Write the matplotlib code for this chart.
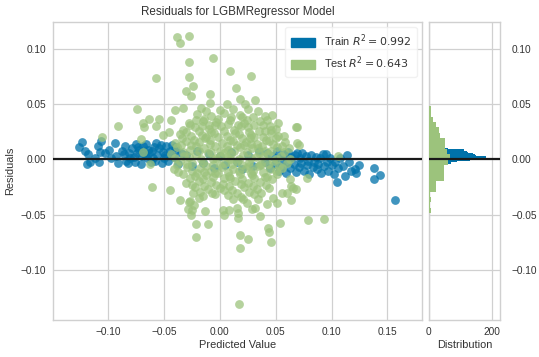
import numpy as np
import matplotlib
matplotlib.use("Agg")
import matplotlib.pyplot as plt
from matplotlib.patches import Patch

# === Data ===
# (predicted value, residual)
train_points = [
    (-0.126, 0.011), (-0.123, 0.016), (-0.121, 0.008), (-0.118, 0.005), (-0.119, -0.004),
    (-0.116, -0.002), (-0.112, 0.001), (-0.109, 0.012), (-0.106, 0.017), (-0.107, 0.007),
    (-0.108, -0.002), (-0.103, 0.006), (-0.099, 0.009), (-0.097, 0.001), (-0.094, 0.015),
    (-0.093, 0.003), (-0.091, -0.003), (-0.088, 0.008), (-0.085, 0.012), (-0.084, -0.001),
    (-0.082, -0.003), (-0.081, 0.006), (-0.079, 0.010), (-0.077, 0.002), (-0.076, -0.002),
    (-0.075, 0.014), (-0.074, 0.006), (-0.072, 0.009), (-0.071, -0.004), (-0.070, 0.003),
    (-0.069, 0.012), (-0.068, 0.007), (-0.066, 0.014), (-0.065, 0.001), (-0.064, 0.009),
    (-0.063, 0.006), (-0.062, -0.002), (-0.060, 0.001), (-0.059, 0.011), (-0.057, 0.015),
    (-0.056, 0.004), (-0.054, 0.010), (-0.052, -0.003), (-0.051, 0.007), (-0.049, 0.004),
    (-0.048, 0.012), (-0.046, -0.001), (-0.045, 0.008), (-0.043, 0.013), (-0.041, 0.002),
    (-0.039, 0.009), (-0.037, -0.004), (-0.035, 0.006), (-0.030, 0.004), (-0.025, -0.006),
    (-0.080, 0.001), (-0.073, 0.011), (-0.067, 0.004), (-0.061, 0.008), (-0.058, -0.001),
    (-0.053, 0.013), (-0.050, 0.001), (-0.044, 0.005), (-0.040, 0.011), (-0.086, 0.005),
    (-0.020, 0.008), (-0.015, -0.003), (-0.010, 0.005), (-0.005, -0.008), (0.000, 0.003),
    (0.005, -0.005), (0.010, 0.007), (0.015, -0.002), (0.020, -0.009), (0.025, 0.004),
    (0.030, -0.006), (0.035, 0.008), (0.040, -0.002), (0.042, 0.006), (0.045, -0.008),
    (0.047, 0.003), (0.049, -0.004), (0.051, 0.008), (0.053, -0.010), (0.054, 0.001),
    (0.056, -0.006), (0.057, 0.005), (0.059, -0.012), (0.060, -0.002), (0.061, 0.007),
    (0.063, -0.008), (0.064, 0.002), (0.066, -0.004), (0.067, 0.004), (0.068, -0.011),
    (0.069, 0.006), (0.071, -0.007), (0.072, 0.001), (0.073, -0.003), (0.074, 0.006),
    (0.075, -0.010), (0.077, 0.003), (0.078, -0.005), (0.079, -0.001), (0.080, -0.013),
    (0.082, 0.004), (0.083, -0.007), (0.084, -0.002), (0.086, 0.002), (0.087, -0.009),
    (0.088, -0.004), (0.090, 0.001), (0.091, -0.012), (0.092, 0.005), (0.093, -0.006),
    (0.095, 0.005), (0.096, -0.002), (0.097, -0.010), (0.099, 0.001), (0.100, -0.005),
    (0.102, -0.013), (0.103, -0.002), (0.105, -0.020), (0.106, -0.008), (0.108, 0.001),
    (0.110, -0.006), (0.112, -0.015), (0.114, 0.004), (0.116, -0.002), (0.117, -0.010),
    (0.121, -0.009), (0.122, -0.012), (0.125, -0.005), (0.138, -0.008), (0.138, -0.018),
    (0.143, -0.014), (0.157, -0.037),
]

test_points = [
    # upper outliers
    (-0.038, 0.111), (-0.028, 0.112), (-0.036, 0.105), (-0.006, 0.092), (-0.0275, 0.088),
    (-0.057, 0.074), (-0.0275, 0.0745), (0.009, 0.080), (0.028, 0.0755), (-0.024, 0.0665),
    (0.0143, 0.065), (-0.0305, 0.062), (-0.009, 0.059), (-0.0257, 0.0575), (-0.074, 0.0455),
    (0.0317, 0.0537), (0.018, 0.0545), (0.0227, 0.0506), (-0.009, 0.051), (0.0066, 0.050),
    (-0.040, 0.0447), (-0.033, 0.0468), (-0.017, 0.0468), (0.0466, 0.0405), (0.034, 0.0438),
    (0.025, 0.046), (-0.0633, 0.0366), (-0.054, 0.0366), (-0.0687, 0.0333), (-0.0436, 0.0357),
    (-0.0567, 0.0306), (0.068, 0.0297), (0.0388, 0.0312), (-0.1055, 0.020), (-0.091, 0.0303),
    (-0.068, 0.029), (-0.0705, 0.0186), (-0.051, 0.0225), (-0.0457, 0.0246), (-0.0687, 0.007),
    (-0.0627, -0.0045), (-0.012, 0.044), (0.000, 0.045), (0.012, 0.046), (0.020, 0.038),
    (-0.021, 0.036), (0.042, 0.036), (0.052, 0.033), (0.0687, 0.015), (0.071, 0.013),
    (0.057, 0.021), (0.1055, 0.0036), (0.063, 0.0006), (0.0687, 0.029),
    # lower outliers
    (-0.0607, -0.0246), (-0.0445, -0.0276), (-0.0356, -0.0366), (-0.0275, -0.0384),
    (-0.024, -0.030), (-0.0185, -0.0345), (-0.023, -0.0408), (-0.025, -0.046), (-0.026, -0.050),
    (-0.0137, -0.0465), (-0.021, -0.058), (-0.0105, -0.058), (-0.021, -0.0705), (0.0024, -0.0456),
    (0.0078, -0.0456), (0.004, -0.050), (0.0155, -0.0443), (0.0164, -0.048), (0.018, -0.0684),
    (0.0185, -0.080), (0.0254, -0.072), (0.0173, -0.1307), (0.012, -0.0353), (0.024, -0.039),
    (0.0284, -0.045), (0.0314, -0.0435), (0.036, -0.0515), (0.043, -0.0615), (0.044, -0.0654),
    (0.0457, -0.075), (0.0538, -0.0575), (0.079, -0.0543), (0.0935, -0.0534), (0.064, -0.037),
    (0.0558, -0.030), (0.068, -0.027), (0.0636, -0.024), (0.0478, -0.0345), (0.078, -0.0165),
    (0.0164, -0.0533), (0.0343, -0.036), (0.042, -0.040), (0.051, -0.039), (0.060, -0.030),
    (0.0657, -0.0255), (0.063, -0.018), (0.021, -0.036), (-0.027, -0.0375), (-0.0285, -0.045),
    # dense core
    (-0.020, 0.041), (-0.008, 0.039), (0.004, 0.042), (0.018, 0.040), (0.030, 0.038),
    (-0.028, 0.033), (-0.015, 0.035), (-0.003, 0.034), (0.009, 0.036), (0.022, 0.033), (0.036, 0.035),
    (-0.033, 0.027), (-0.022, 0.029), (-0.010, 0.028), (0.001, 0.030), (0.013, 0.027),
    (0.025, 0.029), (0.040, 0.026), (0.050, 0.028),
    (-0.036, 0.023), (-0.026, 0.021), (-0.016, 0.022), (-0.005, 0.024), (0.006, 0.021),
    (0.017, 0.023), (0.028, 0.022), (0.039, 0.020), (0.052, 0.021),
    (-0.040, 0.015), (-0.030, 0.017), (-0.019, 0.016), (-0.009, 0.018), (0.002, 0.015),
    (0.012, 0.017), (0.023, 0.016), (0.033, 0.014), (0.044, 0.017), (0.058, 0.016),
    (-0.038, 0.011), (-0.027, 0.009), (-0.014, 0.010), (-0.004, 0.012), (0.007, 0.009),
    (0.018, 0.011), (0.029, 0.010), (0.040, 0.008), (0.051, 0.011), (0.062, 0.010),
    (-0.044, 0.005), (-0.032, 0.003), (-0.021, 0.004), (-0.011, 0.006), (0.000, 0.003),
    (0.010, 0.005), (0.021, 0.004), (0.032, 0.002), (0.043, 0.005), (0.055, 0.003),
    (-0.036, -0.001), (-0.025, -0.003), (-0.015, -0.002), (-0.006, 0.000), (0.005, -0.003),
    (0.015, -0.001), (0.026, -0.002), (0.037, -0.004), (0.048, -0.001), (0.060, -0.003),
    (-0.041, -0.009), (-0.029, -0.007), (-0.018, -0.008), (-0.008, -0.010), (0.002, -0.007),
    (0.012, -0.009), (0.023, -0.008), (0.034, -0.006), (0.045, -0.009), (0.056, -0.008),
    (-0.033, -0.013), (-0.022, -0.015), (-0.012, -0.014), (-0.002, -0.012), (0.008, -0.015),
    (0.018, -0.013), (0.029, -0.014), (0.040, -0.016), (0.051, -0.013),
    (-0.030, -0.021), (-0.019, -0.019), (-0.008, -0.020), (0.003, -0.022), (0.014, -0.019),
    (0.025, -0.021), (0.036, -0.020), (0.047, -0.018),
    (-0.022, -0.025), (-0.011, -0.027), (0.000, -0.026), (0.011, -0.028), (0.022, -0.025),
    (0.033, -0.027), (0.044, -0.026),
    (-0.015, -0.033), (-0.004, -0.031), (0.007, -0.032), (0.019, -0.034), (0.031, -0.031),
    (-0.026, 0.013), (-0.012, 0.020), (0.000, 0.008), (0.015, 0.013), (0.027, 0.019),
    (-0.006, -0.005), (0.009, 0.000), (0.020, -0.005), (0.034, 0.010), (-0.020, -0.012),
    (0.004, -0.017), (0.030, -0.010), (-0.010, 0.031), (0.016, 0.031), (0.046, 0.024),
    # core, in-between rows
    (-0.014, 0.037), (-0.002, 0.037), (0.010, 0.038), (0.024, 0.036), (0.040, 0.039),
    (-0.027, 0.031), (-0.016, 0.030), (-0.004, 0.031), (0.007, 0.032), (0.019, 0.030),
    (0.031, 0.031), (0.045, 0.030),
    (-0.030, 0.025), (-0.019, 0.026), (-0.008, 0.025), (0.004, 0.026), (0.014, 0.024),
    (0.026, 0.025), (0.035, 0.026), (0.046, 0.027),
    (-0.034, 0.019), (-0.023, 0.018), (-0.013, 0.019), (-0.002, 0.020), (0.009, 0.018),
    (0.020, 0.019), (0.031, 0.020), (0.041, 0.018), (0.050, 0.019),
    (-0.035, 0.013), (-0.021, 0.012), (-0.009, 0.014), (0.006, 0.012), (0.022, 0.013),
    (0.028, 0.014), (0.038, 0.012), (0.048, 0.014), (0.056, 0.012),
    (-0.033, 0.007), (-0.019, 0.008), (-0.008, 0.007), (0.004, 0.006), (0.013, 0.008),
    (0.024, 0.007), (0.035, 0.006), (0.046, 0.008), (0.057, 0.007),
    (-0.040, 0.001), (-0.028, 0.002), (-0.017, 0.000), (-0.003, 0.001), (0.006, 0.002),
    (0.017, 0.000), (0.028, 0.001), (0.039, 0.002), (0.050, 0.000),
    (-0.038, -0.005), (-0.029, -0.004), (-0.012, -0.006), (0.000, -0.005), (0.011, -0.004),
    (0.026, -0.006), (0.036, -0.005), (0.043, -0.004), (0.053, -0.006),
    (-0.037, -0.011), (-0.025, -0.010), (-0.014, -0.011), (-0.004, -0.012), (0.007, -0.011),
    (0.017, -0.010), (0.028, -0.012), (0.039, -0.011), (0.050, -0.010),
    (-0.027, -0.017), (-0.015, -0.018), (-0.006, -0.016), (0.009, -0.017), (0.020, -0.018),
    (0.031, -0.017), (0.042, -0.016),
    (-0.025, -0.023), (-0.014, -0.024), (-0.003, -0.023), (0.008, -0.024), (0.019, -0.022),
    (0.030, -0.024), (0.041, -0.023),
    (-0.018, -0.029), (-0.007, -0.030), (0.004, -0.028), (0.015, -0.030), (0.026, -0.029),
    (0.037, -0.030),
]

# histogram bins (residual bin centre, count)
train_hist_y = [0.0118, 0.0107, 0.0096, 0.0086, 0.0075, 0.0064, 0.0054, 0.0043, 0.0032,
                0.0022, 0.0011, 0.0000, -0.0011, -0.0021, -0.0032, -0.0043, -0.0054, -0.0064]
train_hist_n = [3, 8, 60, 110, 120, 125, 140, 145, 150, 180, 188, 165, 130, 90, 70, 40, 20, 10]
train_bin_w = 0.00107

test_hist_y = [0.0460, 0.0412, 0.0363, 0.0315, 0.0266, 0.0218, 0.0169, 0.0121, 0.0072,
               0.0024, -0.0025, -0.0073, -0.0122, -0.0170, -0.0219, -0.0267, -0.0316,
               -0.0364, -0.0413, -0.0461]
test_hist_n = [8, 9, 13, 22, 32, 37, 51, 52, 57, 67, 60, 50, 49, 50, 25, 22, 4, 9, 6, 9]
test_bin_w = 0.00485

train_r2 = 0.992
test_r2 = 0.643

train_color = "#0072aa"
test_color = "#9cc37c"
grid_color = "#d0d0d0"
text_color = "#333333"

plt.rcParams["font.family"] = ["Liberation Sans", "DejaVu Sans"]

fig = plt.figure(figsize=(5.39, 3.57), dpi=100)
ax = fig.add_axes([0.099, 0.104, 0.684, 0.835])
hax = fig.add_axes([0.795, 0.104, 0.133, 0.835], sharey=ax)

tr = np.array(train_points)
te = np.array(test_points)

ax.scatter(tr[:, 0], tr[:, 1], s=40, color=train_color, alpha=0.75, linewidths=0,
           label=f"Train $R^2 = {train_r2:0.3f}$", zorder=2)
ax.scatter(te[:, 0], te[:, 1], s=40, color=test_color, alpha=0.75, linewidths=0,
           label=f"Test $R^2 = {test_r2:0.3f}$", zorder=3)
ax.axhline(0, color="#1a1a1a", lw=1.6, zorder=4)

hax.barh(train_hist_y, train_hist_n, height=train_bin_w, color=train_color, zorder=2)
hax.barh(test_hist_y, test_hist_n, height=test_bin_w, color=test_color, zorder=3)
hax.axhline(0, color="#1a1a1a", lw=1.6, zorder=4)

ax.set_xlim(-0.149, 0.181)
ax.set_ylim(-0.145, 0.1245)
ax.set_xticks([-0.10, -0.05, 0.00, 0.05, 0.10, 0.15])
ax.set_yticks([-0.10, -0.05, 0.00, 0.05, 0.10])
hax.set_xlim(0, 225)
hax.set_xticks([0, 200])

for a in (ax, hax):
    a.set_facecolor("white")
    a.grid(True, color=grid_color, lw=0.9, zorder=0)
    a.set_axisbelow(True)
    for sp in a.spines.values():
        sp.set_color(grid_color)
        sp.set_linewidth(1.0)
    a.tick_params(length=0, labelsize=7.3, colors=text_color, pad=5)

hax.yaxis.tick_right()
hax.tick_params(axis="y", labelleft=False, labelright=True, pad=8)

ax.set_title("Residuals for LGBMRegressor Model", fontsize=8.4, color=text_color, pad=5)
ax.set_xlabel("Predicted Value", fontsize=7.9, color=text_color, labelpad=2)
ax.set_ylabel("Residuals", fontsize=7.9, color=text_color, labelpad=4)
hax.set_xlabel("Distribution", fontsize=7.9, color=text_color, labelpad=2)

handles = [Patch(color=train_color), Patch(color=test_color)]
labels = [f"Train $R^2 = {train_r2:0.3f}$", f"Test $R^2 = {test_r2:0.3f}$"]
leg = ax.legend(handles, labels, loc="upper right", fontsize=7.9, frameon=True,
                framealpha=0.8, edgecolor="#eeeeee", fancybox=True,
                handlelength=2.2, handleheight=0.9, borderpad=0.5, labelspacing=0.5)
for t in leg.get_texts():
    t.set_color(text_color)

fig.savefig("out.png", dpi=100)
